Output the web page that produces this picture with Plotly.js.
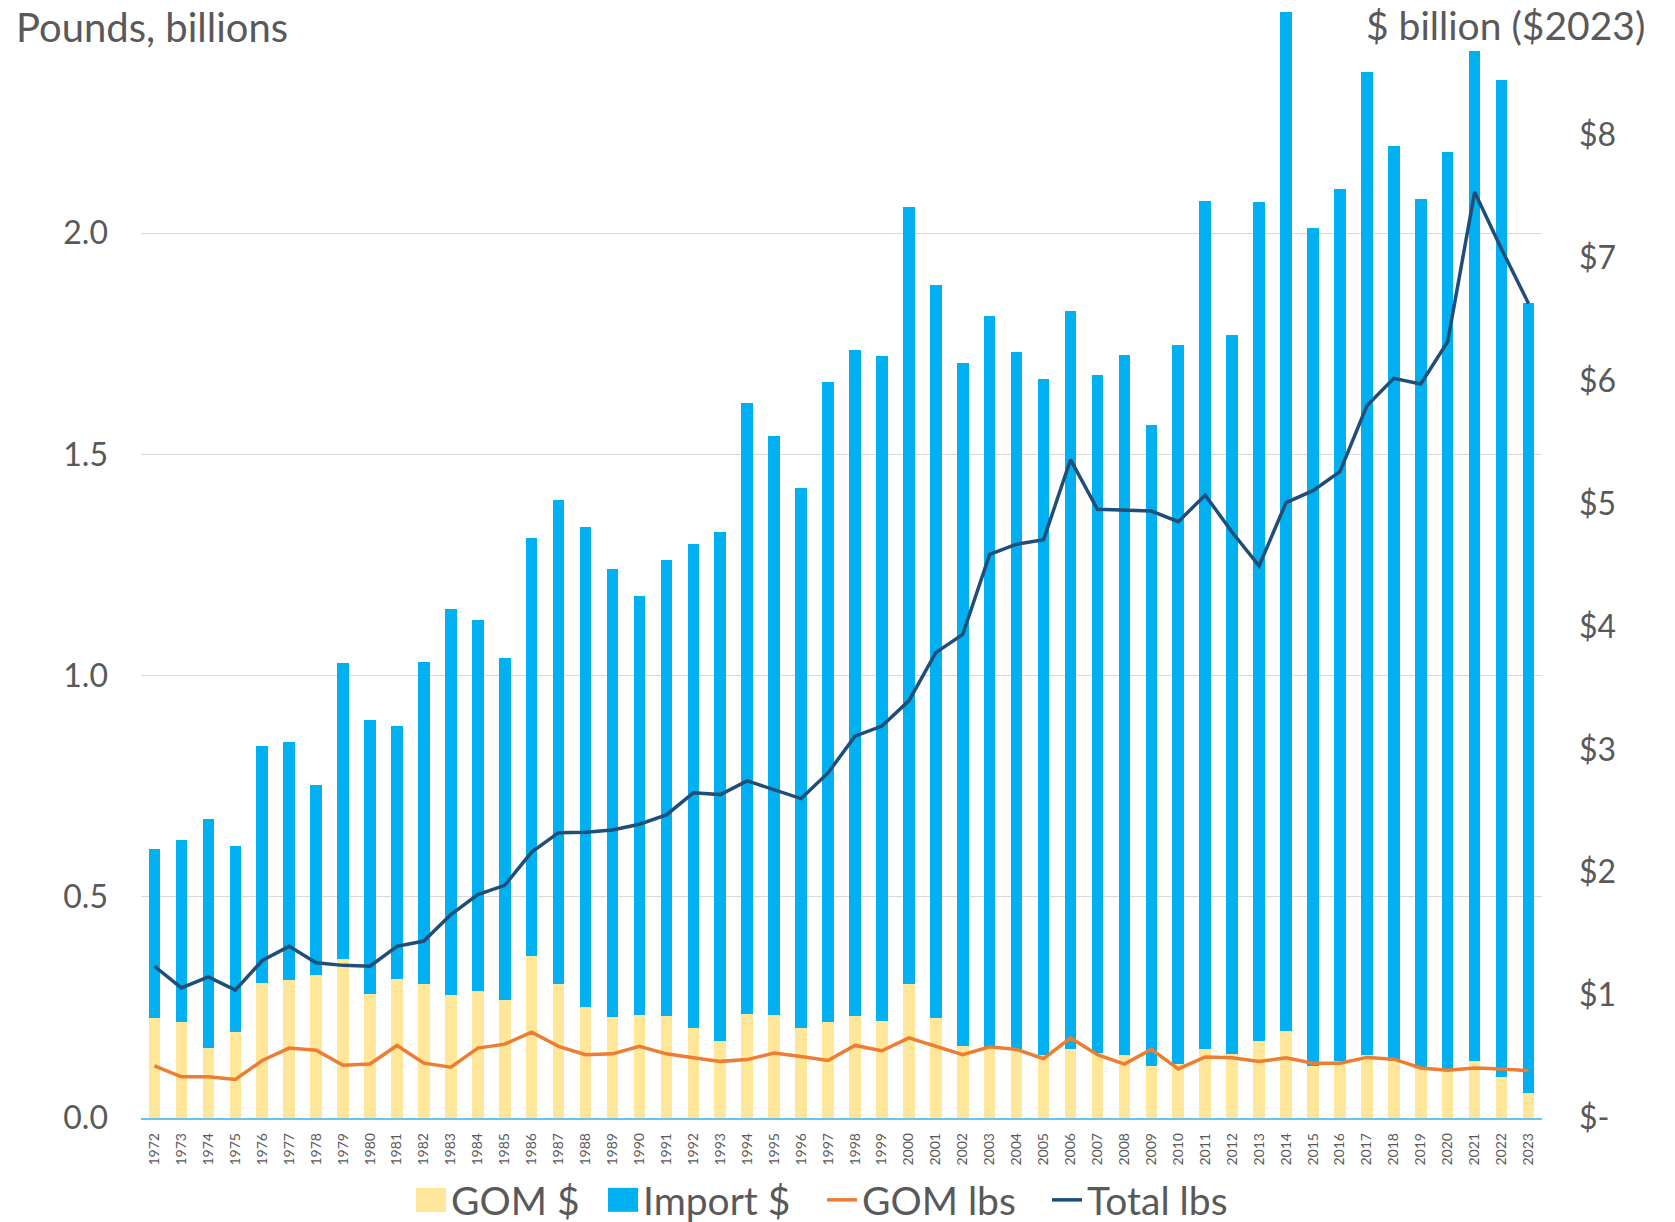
<!DOCTYPE html>
<html>
<head>
<meta charset="utf-8">
<script src="https://cdn.plot.ly/plotly-3.0.1.min.js"></script>
<style>
html,body{margin:0;padding:0;background:#ffffff;}
#chart{width:1675px;height:1222px;}
</style>
</head>
<body>
<div id="chart"></div>
<script>
const years = ['1972','1973','1974','1975','1976','1977','1978','1979','1980','1981','1982','1983','1984','1985','1986','1987','1988','1989','1990','1991','1992','1993','1994','1995','1996','1997','1998','1999','2000','2001','2002','2003','2004','2005','2006','2007','2008','2009','2010','2011','2012','2013','2014','2015','2016','2017','2018','2019','2020','2021','2022','2023'];

// $ billion ($2023), right axis
const gomDollars = [0.81,0.78,0.57,0.70,1.10,1.12,1.16,1.29,1.01,1.13,1.09,1.00,1.03,0.96,1.32,1.09,0.90,0.82,0.84,0.83,0.73,0.63,0.85,0.84,0.73,0.78,0.83,0.79,1.09,0.81,0.59,0.58,0.56,0.51,0.56,0.53,0.51,0.42,0.44,0.56,0.52,0.63,0.71,0.42,0.46,0.51,0.46,0.41,0.39,0.46,0.33,0.20];
const importDollars = [1.38,1.48,1.86,1.51,1.93,1.94,1.55,2.41,2.23,2.06,2.62,3.14,3.02,2.78,3.40,3.94,3.91,3.65,3.41,3.71,3.94,4.14,4.97,4.71,4.40,5.21,5.42,5.41,6.32,5.97,5.55,5.95,5.67,5.50,6.01,5.52,5.70,5.22,5.85,6.90,5.85,6.82,8.29,6.82,7.10,8.00,7.45,7.07,7.47,8.22,8.12,6.43];

// Pounds, billions, left axis
const gomPounds = [0.118,0.093,0.093,0.087,0.130,0.158,0.153,0.119,0.122,0.164,0.124,0.115,0.158,0.167,0.194,0.162,0.143,0.145,0.162,0.145,0.136,0.128,0.132,0.147,0.139,0.130,0.164,0.152,0.181,0.162,0.143,0.161,0.155,0.134,0.181,0.143,0.122,0.155,0.111,0.138,0.136,0.128,0.136,0.124,0.124,0.137,0.133,0.113,0.108,0.113,0.111,0.107];
const totalPounds = [0.343,0.294,0.319,0.289,0.356,0.388,0.351,0.345,0.343,0.388,0.400,0.460,0.505,0.526,0.601,0.645,0.646,0.651,0.664,0.685,0.735,0.731,0.762,0.743,0.722,0.780,0.863,0.886,0.943,1.052,1.093,1.274,1.297,1.307,1.488,1.376,1.374,1.372,1.348,1.408,1.324,1.248,1.391,1.418,1.461,1.610,1.672,1.659,1.755,2.093,1.964,1.841];

const leftTickVals = [0,0.5,1,1.5,2,2.5];
const leftTickText = ['0.0','0.5','1.0','1.5','2.0',''];
const rightTickVals = [0,1,2,3,4,5,6,7,8];
const rightTickText = ['$-','$1','$2','$3','$4','$5','$6','$7','$8'];

const seriesNames = ['GOM $','Import $','GOM lbs','Total lbs'];
const leftTitle = 'Pounds, billions';
const rightTitle = '$ billion ($2023)';

const textColor = '#595959';
const fontFamily = 'Lato, "Open Sans", sans-serif';

const traces = [
  {type:'bar', name:seriesNames[0], x:years, y:gomDollars, yaxis:'y',
   marker:{color:'#FFE699', line:{width:0}}, legendwidth:147},
  {type:'bar', name:seriesNames[1], x:years, y:importDollars, yaxis:'y',
   marker:{color:'#00B0F0', line:{width:0}}, legendwidth:174},
  {type:'scatter', mode:'lines', name:seriesNames[2], x:years, y:gomPounds, yaxis:'y2',
   line:{color:'#ED7D31', width:3.5}, legendwidth:180},
  {type:'scatter', mode:'lines', name:seriesNames[3], x:years, y:totalPounds, yaxis:'y2',
   line:{color:'#1F4E79', width:3.5}}
];

const plotL = 141, plotR = 1542, plotT = 12, plotB = 1118;
const W = 1675, H = 1222;
const pw = plotR - plotL, ph = plotB - plotT;
const px = v => (v - plotL) / pw;
const py = v => (plotB - v) / ph;

const layout = {
  width: W, height: H,
  margin: {l: plotL, r: W - plotR, t: plotT, b: H - plotB, pad: 0, autoexpand: false},
  paper_bgcolor: '#ffffff', plot_bgcolor: '#ffffff',
  font: {family: fontFamily, color: textColor},
  barmode: 'stack',
  bargap: 0.57,
  showlegend: true,
  xaxis: {
    type: 'category', tickangle: -90,
    tickfont: {size: 14, color: textColor},
    showline: true, linecolor: '#6CC3EA', linewidth: 1.5,
    showgrid: false, zeroline: false, ticks: '',
    ticklabelstandoff: 8, fixedrange: true, automargin: false
  },
  yaxis: {
    side: 'right', range: [0, 9],
    tickmode: 'array', tickvals: rightTickVals, ticktext: rightTickText,
    tickfont: {size: 32, color: textColor},
    showgrid: false, zeroline: false, showline: false, ticks: '',
    ticklabelstandoff: 36, fixedrange: true, automargin: false
  },
  yaxis2: {
    overlaying: 'y', side: 'left', range: [0, 2.5],
    tickmode: 'array', tickvals: leftTickVals, ticktext: leftTickText,
    tickfont: {size: 32, color: textColor},
    showgrid: true, gridcolor: '#D9D9D9', gridwidth: 1,
    zeroline: false, showline: false, ticks: '',
    ticklabelstandoff: 32, fixedrange: true, automargin: false
  },
  legend: {
    orientation: 'h', traceorder: 'normal',
    x: px(411), xanchor: 'left',
    y: py(1200), yanchor: 'middle',
    font: {size: 39, color: textColor},
    bgcolor: 'rgba(255,255,255,0)', itemwidth: 30
  },
  annotations: [
    {text: leftTitle, xref: 'paper', yref: 'paper', x: px(13), y: py(27),
     xanchor: 'left', yanchor: 'middle', showarrow: false,
     font: {size: 40, color: textColor}, bgcolor: '#ffffff', borderpad: 2},
    {text: rightTitle, xref: 'paper', yref: 'paper', x: px(1648), y: py(25),
     xanchor: 'right', yanchor: 'middle', showarrow: false,
     font: {size: 39, color: textColor}, bgcolor: '#ffffff', borderpad: 2}
  ]
};

// Enlarge the legend swatches of the bar series to Excel-like blocks (cosmetic only)
function enlargeBarSwatches(gd) {
  const items = gd.querySelectorAll('.legend .traces');
  items.forEach(function(item) {
    const data = item.__data__;
    const trace = data && data[0] && data[0].trace;
    if (!trace || trace.type !== 'bar') return;
    item.querySelectorAll('.legendpoints path').forEach(function(p) {
      p.setAttribute('d', 'M15,12H-15V-12H15Z');
    });
  });
}

Plotly.newPlot('chart', traces, layout, {displayModeBar: false, staticPlot: true}).then(function(gd){
  enlargeBarSwatches(gd);
  gd.on('plotly_afterplot', function(){ enlargeBarSwatches(gd); });
  setTimeout(function(){ enlargeBarSwatches(gd); }, 30);
});
</script>
</body>
</html>
